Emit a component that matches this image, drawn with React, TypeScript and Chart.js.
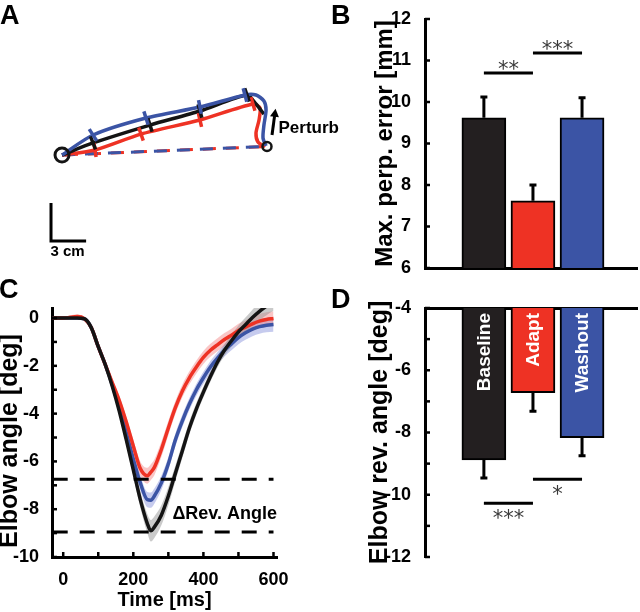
import React, { useEffect, useRef } from 'react';
import { Chart, registerables } from 'chart.js';

Chart.register(...registerables);

const FONT = '"Liberation Sans", Arial, Helvetica, sans-serif';
const STAR_FONT = '"DejaVu Sans", sans-serif';
const INK = '#141414';
const RED = '#ee3224';
const BLUE = '#3b54a5';
const BAR_BLACK = '#231f20';

// ---------------- Panel A: hand paths (cm, origin = start target) ----------------
const baselinePath = [[0, 0], [2.65, 1.03], [7.52, 2.56], [11.79, 3.76], [15.81, 5.13], [16.58, 4.36], [17.26, 3.5]];
const adaptPath = [[0, 0], [2.82, 0.43], [6.75, 1.79], [11.79, 2.99], [16.32, 4.36], [16.92, 4.02], [16.84, 2.99], [16.58, 1.88], [16.75, 1.11], [17.35, 0.68]];
const washoutPath = [[0, 0], [2.65, 1.71], [7.18, 3.16], [11.79, 4.1], [15.64, 5.13], [16.58, 5.13], [17.26, 4.62], [17.44, 3.85], [17.26, 2.56], [17.18, 1.45], [17.44, 0.77]];
const pathTickIdx = [1, 2, 3, 4];
const startTarget = [0, 0];
const endTarget = [17.52, 0.73];
const perturbArrow = [[17.95, 1.71], [18.25, 3.95]];
const scaleBarCm = [[-0.94, -4.1], [-0.94, -7.35], [2.06, -7.35]];

// ---------------- Panels B & D: bars ----------------
const conditions = ['Baseline', 'Adapt', 'Washout'];
const barColors = [BAR_BLACK, RED, BLUE];
const perpErrMean = [9.62, 7.62, 9.62];
const perpErrSE = [0.5, 0.38, 0.48];
const perpTicks = [6, 7, 8, 9, 10, 11, 12];
const perpSig = [
  { from: 0, to: 1, y: 10.7, label: '**' },
  { from: 1, to: 2, y: 11.18, label: '***' },
];
const revMean = [-8.88, -6.72, -8.17];
const revSE = [0.58, 0.6, 0.58];
const revTicks = [-12, -11, -10, -9, -8, -7, -6, -5, -4];
const revSig = [
  { from: 0, to: 1, y: -10.27, label: '***' },
  { from: 1, to: 2, y: -9.5, label: '*' },
];

// ---------------- Panel C: elbow angle time courses ----------------
const times = [-30, 0, 20, 40, 60, 80, 100, 120, 140, 160, 180, 200, 220, 240, 250, 260, 280, 300, 320, 340, 360, 380, 400, 420, 440, 460, 480, 500, 520, 540, 560, 580, 600];
const baselineAngle = [0, 0, 0, 0, -0.03, -0.4, -1.2, -1.95, -2.85, -3.9, -5.1, -6.35, -7.6, -8.6, -8.9, -8.75, -8.25, -7.45, -6.5, -5.55, -4.6, -3.8, -3.1, -2.45, -1.85, -1.35, -0.95, -0.58, -0.28, 0.02, 0.28, 0.5, 0.7];
const adaptAngle = [0, 0, 0.03, 0.06, -0.02, -0.4, -1.2, -1.95, -2.7, -3.45, -4.35, -5.35, -6.3, -6.6, -6.45, -6.25, -5.5, -4.6, -3.75, -3.05, -2.5, -2.05, -1.65, -1.35, -1.12, -0.9, -0.72, -0.52, -0.38, -0.24, -0.13, -0.06, -0.02];
const washoutAngle = [0, 0, 0, 0, -0.03, -0.4, -1.2, -1.95, -2.8, -3.75, -4.8, -5.9, -6.9, -7.6, -7.62, -7.45, -6.9, -6.1, -5.1, -4.3, -3.6, -3.0, -2.5, -2.05, -1.68, -1.35, -1.08, -0.82, -0.62, -0.46, -0.36, -0.3, -0.27];
const baselineSE = [0.04, 0.04, 0.04, 0.05, 0.05, 0.08, 0.1, 0.12, 0.15, 0.18, 0.22, 0.27, 0.33, 0.4, 0.45, 0.45, 0.42, 0.38, 0.33, 0.3, 0.27, 0.25, 0.23, 0.22, 0.22, 0.23, 0.25, 0.27, 0.3, 0.33, 0.36, 0.38, 0.4];
const adaptSE = [0.05, 0.05, 0.08, 0.1, 0.06, 0.08, 0.1, 0.12, 0.15, 0.18, 0.22, 0.26, 0.3, 0.33, 0.33, 0.33, 0.32, 0.3, 0.28, 0.27, 0.27, 0.27, 0.27, 0.27, 0.27, 0.27, 0.27, 0.28, 0.28, 0.29, 0.3, 0.3, 0.3];
const washoutSE = [0.04, 0.04, 0.04, 0.05, 0.05, 0.08, 0.1, 0.12, 0.15, 0.18, 0.22, 0.26, 0.3, 0.32, 0.32, 0.32, 0.3, 0.28, 0.27, 0.26, 0.25, 0.25, 0.25, 0.25, 0.25, 0.26, 0.27, 0.28, 0.29, 0.3, 0.3, 0.3, 0.3];
const revLevels = [-6.75, -8.95];
const angleTicks = [-10, -9, -8, -7, -6, -5, -4, -3, -2, -1, 0];
const timeTicks = [0, 100, 200, 300, 400, 500, 600];

const noInteract = {
  animation: false,
  responsive: false,
  events: [],
};

function letter(ctx: CanvasRenderingContext2D, text: string, x: number, y: number) {
  ctx.save();
  ctx.font = `bold 27px ${FONT}`;
  ctx.fillStyle = '#000';
  ctx.textAlign = 'left';
  ctx.textBaseline = 'alphabetic';
  ctx.fillText(text, x, y);
  ctx.restore();
}

// ---------------- Panel A config ----------------
function configA(): any {
  const toPts = (path: number[][]) => path.map((p) => ({ x: p[0], y: p[1] }));
  const pathDs = (path: number[][], color: string, order: number) => ({
    data: toPts(path), showLine: true, borderColor: color, borderWidth: 3.5, pointRadius: 0, tension: 0.25, order,
  });
  const plugin = {
    id: 'panelA',
    afterDatasetsDraw(chart: any) {
      const { ctx, scales } = chart;
      const px = (p: number[]) => [scales.x.getPixelForValue(p[0]), scales.y.getPixelForValue(p[1])];
      ctx.save();
      ctx.lineWidth = 3.5;
      ctx.lineCap = 'butt';
      const sets: [number[][], string][] = [[adaptPath, RED], [baselinePath, INK], [washoutPath, BLUE]];
      sets.forEach(([path, color]) => {
        ctx.strokeStyle = color;
        pathTickIdx.forEach((i) => {
          const a = px(path[i - 1]);
          const c = px(path[i]);
          let dx = c[0] - a[0];
          let dy = c[1] - a[1];
          const len = Math.hypot(dx, dy) || 1;
          dx /= len; dy /= len;
          const nx = -dy, ny = dx, h = 7;
          ctx.beginPath();
          ctx.moveTo(c[0] - nx * h, c[1] - ny * h);
          ctx.lineTo(c[0] + nx * h, c[1] + ny * h);
          ctx.stroke();
        });
      });
      // perturbation arrow
      const tail = px(perturbArrow[0]);
      const tip = px(perturbArrow[1]);
      let ux = tip[0] - tail[0], uy = tip[1] - tail[1];
      const l = Math.hypot(ux, uy);
      ux /= l; uy /= l;
      const head = 8;
      ctx.lineWidth = 3;
      ctx.strokeStyle = '#000';
      ctx.fillStyle = '#000';
      ctx.beginPath();
      ctx.moveTo(tail[0], tail[1]);
      ctx.lineTo(tip[0] - ux * head * 0.8, tip[1] - uy * head * 0.8);
      ctx.stroke();
      ctx.beginPath();
      ctx.moveTo(tip[0], tip[1]);
      ctx.lineTo(tip[0] - ux * head - uy * 4.5, tip[1] - uy * head + ux * 4.5);
      ctx.lineTo(tip[0] - ux * head + uy * 4.5, tip[1] - uy * head - ux * 4.5);
      ctx.closePath();
      ctx.fill();
      ctx.font = `bold 17px ${FONT}`;
      ctx.textAlign = 'left';
      ctx.textBaseline = 'middle';
      ctx.fillText('Perturb', Math.max(tail[0], tip[0]) + 3, (tail[1] + tip[1]) / 2 + 6);
      // scale bar label
      const c0 = px(scaleBarCm[1]);
      const c1 = px(scaleBarCm[2]);
      ctx.font = `bold 15px ${FONT}`;
      ctx.textAlign = 'center';
      ctx.fillText('3 cm', (c0[0] + c1[0]) / 2 - 1, c0[1] + 11);
      ctx.restore();
      letter(ctx, 'A', 0, 24);
    },
  };
  return {
    type: 'scatter',
    data: {
      datasets: [
        { data: [{ x: startTarget[0], y: startTarget[1] }], pointRadius: 7, pointBorderWidth: 3, borderColor: INK, backgroundColor: 'rgba(0,0,0,0)', order: 0 },
        { data: [{ x: endTarget[0], y: endTarget[1] }], pointRadius: 4.5, pointBorderWidth: 2.5, borderColor: INK, backgroundColor: 'rgba(0,0,0,0)', order: 0 },
        { data: toPts(scaleBarCm), showLine: true, borderColor: '#000', borderWidth: 3, pointRadius: 0, order: 0 },
        pathDs(washoutPath, BLUE, 1),
        pathDs(baselinePath, INK, 2),
        pathDs(adaptPath, RED, 3),
        { data: [{ x: startTarget[0], y: startTarget[1] }, { x: endTarget[0], y: endTarget[1] }], showLine: true, borderColor: BLUE, borderWidth: 3, borderDash: [13, 10], pointRadius: 0, order: 4 },
        { data: [{ x: startTarget[0], y: startTarget[1] }, { x: endTarget[0], y: endTarget[1] }], showLine: true, borderColor: RED, borderWidth: 3, borderDash: [13, 10], borderDashOffset: -3, pointRadius: 0, order: 5 },
      ],
    },
    options: {
      ...noInteract,
      layout: { padding: 0, autoPadding: false },
      plugins: { legend: { display: false }, tooltip: { enabled: false } },
      scales: {
        x: { type: 'linear', display: false, min: -5.3, max: 25.47 },
        y: { type: 'linear', display: false, min: -9.83, max: 13.25 },
      },
    },
    plugins: [plugin],
  };
}

// ---------------- Bar panels (B, D) ----------------
function makeBarConfig(p: any): any {
  const plugin = {
    id: 'barExtras',
    afterDatasetsDraw(chart: any) {
      const { ctx, scales, chartArea } = chart;
      const x = scales.x, y = scales.y;
      const meta = chart.getDatasetMeta(0);
      ctx.save();
      ctx.strokeStyle = '#000';
      ctx.lineWidth = 3;
      meta.data.forEach((bar: any, i: number) => {
        const yEnd = y.getPixelForValue(p.means[i] + p.dir * p.se[i]);
        ctx.beginPath();
        ctx.moveTo(bar.x, bar.y);
        ctx.lineTo(bar.x, yEnd);
        ctx.moveTo(bar.x - 3.5, yEnd);
        ctx.lineTo(bar.x + 3.5, yEnd);
        ctx.stroke();
      });
      p.sig.forEach((s: any) => {
        const x1 = x.getPixelForValue(s.from + 1);
        const x2 = x.getPixelForValue(s.to + 1);
        const yy = y.getPixelForValue(s.y);
        ctx.strokeStyle = '#000';
        ctx.lineWidth = 3;
        ctx.beginPath();
        ctx.moveTo(x1, yy);
        ctx.lineTo(x2, yy);
        ctx.stroke();
        const size = 21;
        ctx.font = `${size}px ${STAR_FONT}`;
        ctx.fillStyle = '#3a3a3a';
        ctx.textAlign = 'center';
        ctx.textBaseline = 'alphabetic';
        ctx.fillText(s.label, (x1 + x2) / 2, yy + p.starOffset + 0.56 * size);
      });
      if (p.inside) {
        meta.data.forEach((bar: any, i: number) => {
          ctx.save();
          ctx.translate(bar.x, y.getPixelForValue(p.base) + 5);
          ctx.rotate(-Math.PI / 2);
          ctx.font = `bold 19px ${FONT}`;
          ctx.fillStyle = '#fff';
          ctx.textAlign = 'right';
          ctx.textBaseline = 'middle';
          ctx.fillText(conditions[i], 0, 1);
          ctx.restore();
        });
      }
      ctx.strokeStyle = '#000';
      ctx.lineWidth = 2.5;
      p.ticks.forEach((v: number) => {
        const py = y.getPixelForValue(v);
        ctx.beginPath();
        ctx.moveTo(chartArea.left, py);
        ctx.lineTo(chartArea.left + 5, py);
        ctx.stroke();
      });
      ctx.restore();
      letter(ctx, p.letter, 11, 24);
    },
  };
  return {
    type: 'bar',
    data: {
      datasets: [{
        data: p.means.map((v: number, i: number) => ({ x: i + 1, y: v })),
        backgroundColor: barColors,
        borderColor: '#000',
        borderWidth: 2,
        borderSkipped: 'start',
        barThickness: 44,
        base: p.base,
      }],
    },
    options: {
      ...noInteract,
      layout: { padding: p.padding, autoPadding: false },
      plugins: { legend: { display: false }, tooltip: { enabled: false } },
      scales: {
        x: {
          type: 'linear', position: p.xPos, min: -0.2, max: 4.12, offset: false,
          grid: { display: false }, ticks: { display: false },
          border: { display: true, color: '#000', width: 3 },
          afterFit: (s: any) => { s.height = 0; },
        },
        y: {
          type: 'linear', min: p.min, max: p.max,
          afterBuildTicks: (s: any) => { s.ticks = p.ticks.map((v: number) => ({ value: v })); },
          ticks: { color: '#000', font: { family: FONT, size: 18, weight: 'bold' }, padding: 6, autoSkip: false, callback: p.tickLabel },
          grid: { display: false },
          border: { color: '#000', width: 3 },
          title: { display: true, text: p.title, color: '#000', font: { family: FONT, size: p.titleSize, weight: 'bold' }, padding: { top: p.titlePad, bottom: 0 } },
          afterFit: (s: any) => { s.width = 105; },
        },
      },
    },
    plugins: [plugin],
  };
}

function configB(): any {
  return makeBarConfig({
    means: perpErrMean, se: perpErrSE, dir: 1, base: perpTicks[0],
    ticks: perpTicks, min: perpTicks[0], max: perpTicks[perpTicks.length - 1],
    tickLabel: (v: number) => String(v),
    sig: perpSig, starOffset: -9, inside: false, letter: 'B', xPos: 'bottom',
    padding: { top: 19, right: 3, bottom: 22, left: 0 },
    title: 'Max. perp. error [mm]', titleSize: 24, titlePad: 50.6,
  });
}

function configD(): any {
  return makeBarConfig({
    means: revMean, se: revSE, dir: -1, base: revTicks[revTicks.length - 1],
    ticks: revTicks, min: revTicks[0], max: revTicks[revTicks.length - 1],
    tickLabel: (v: number) => (v % 2 === 0 ? String(v) : ''),
    sig: revSig, starOffset: 10.5, inside: true, letter: 'D', xPos: 'top',
    padding: { top: 24, right: 3, bottom: 55, left: 0 },
    title: 'Elbow rev. angle [deg]', titleSize: 25, titlePad: 45,
  });
}

// ---------------- Panel C config ----------------
function configC(): any {
  const series = [
    { mean: baselineAngle, se: baselineSE, line: INK, band: 'rgba(150,150,150,0.5)', order: 1 },
    { mean: adaptAngle, se: adaptSE, line: RED, band: 'rgba(240,120,120,0.42)', order: 2 },
    { mean: washoutAngle, se: washoutSE, line: BLUE, band: 'rgba(120,130,215,0.42)', order: 3 },
  ];
  const datasets: any[] = [];
  series.forEach((s) => {
    datasets.push({
      data: times.map((t, i) => ({ x: t, y: s.mean[i] + s.se[i] })),
      borderWidth: 0, borderColor: 'rgba(0,0,0,0)', pointRadius: 0, backgroundColor: s.band,
      fill: '+1', order: 10 + s.order, cubicInterpolationMode: 'monotone',
    });
    datasets.push({
      data: times.map((t, i) => ({ x: t, y: s.mean[i] - s.se[i] })),
      borderWidth: 0, borderColor: 'rgba(0,0,0,0)', pointRadius: 0, fill: false,
      order: 10 + s.order, cubicInterpolationMode: 'monotone',
    });
  });
  series.forEach((s) => {
    datasets.push({
      data: times.map((t, i) => ({ x: t, y: s.mean[i] })),
      borderColor: s.line, borderWidth: 3.5, pointRadius: 0, fill: false,
      order: s.order, cubicInterpolationMode: 'monotone',
    });
  });
  revLevels.forEach((lv) => {
    datasets.push({
      data: [{ x: times[0], y: lv }, { x: times[times.length - 1], y: lv }],
      borderColor: '#000', borderWidth: 3, borderDash: [15, 12], pointRadius: 0, fill: false, order: 0,
    });
  });
  const plugin = {
    id: 'panelC',
    afterDraw(chart: any) {
      const { ctx, scales, chartArea } = chart;
      ctx.save();
      ctx.strokeStyle = '#000';
      ctx.lineWidth = 2.5;
      angleTicks.forEach((v) => {
        const py = scales.y.getPixelForValue(v);
        ctx.beginPath();
        ctx.moveTo(chartArea.left, py);
        ctx.lineTo(chartArea.left + 5, py);
        ctx.stroke();
      });
      timeTicks.forEach((v) => {
        const pxv = scales.x.getPixelForValue(v);
        ctx.beginPath();
        ctx.moveTo(pxv, chartArea.bottom);
        ctx.lineTo(pxv, chartArea.bottom - 5);
        ctx.stroke();
      });
      ctx.fillStyle = '#000';
      ctx.font = `bold 18px ${FONT}`;
      ctx.textAlign = 'right';
      ctx.textBaseline = 'middle';
      ctx.fillText('\u0394Rev. Angle', chartArea.right, scales.y.getPixelForValue(-8.2));
      ctx.save();
      ctx.translate(10, 171);
      ctx.rotate(-Math.PI / 2);
      ctx.font = `bold 25px ${FONT}`;
      ctx.textAlign = 'center';
      ctx.textBaseline = 'middle';
      ctx.fillText('Elbow angle [deg]', 0, 0);
      ctx.restore();
      ctx.restore();
      letter(ctx, 'C', -1, 28);
    },
  };
  return {
    type: 'line',
    data: { datasets },
    options: {
      ...noInteract,
      layout: { padding: { top: 38, right: 43, bottom: 0, left: 0 }, autoPadding: false },
      plugins: { legend: { display: false }, tooltip: { enabled: false } },
      scales: {
        x: {
          type: 'linear', min: -32, max: 610,
          afterBuildTicks: (s: any) => { s.ticks = timeTicks.map((v) => ({ value: v })); },
          ticks: { color: '#000', font: { family: FONT, size: 18, weight: 'bold' }, padding: 4, autoSkip: false, maxRotation: 0, callback: (v: number) => (v % 200 === 0 ? String(v) : '') },
          grid: { display: false },
          border: { color: '#000', width: 3 },
          title: { display: true, text: 'Time [ms]', color: '#000', font: { family: FONT, size: 20, weight: 'bold' }, padding: { top: 0, bottom: 0 } },
          afterFit: (s: any) => { s.height = 55; },
        },
        y: {
          type: 'linear', min: -10, max: 0.42,
          afterBuildTicks: (s: any) => { s.ticks = angleTicks.map((v) => ({ value: v })); },
          ticks: { color: '#000', font: { family: FONT, size: 18, weight: 'bold' }, padding: 5, autoSkip: false, callback: (v: number) => (v % 2 === 0 ? String(v) : '') },
          grid: { display: false },
          border: { color: '#000', width: 3 },
          afterFit: (s: any) => { s.width = 52; },
        },
      },
    },
    plugins: [plugin],
  };
}

export default function App() {
  const aRef = useRef<HTMLCanvasElement>(null);
  const bRef = useRef<HTMLCanvasElement>(null);
  const cRef = useRef<HTMLCanvasElement>(null);
  const dRef = useRef<HTMLCanvasElement>(null);

  useEffect(() => {
    const charts = [
      new Chart(bRef.current as HTMLCanvasElement, configB()),
      new Chart(dRef.current as HTMLCanvasElement, configD()),
      new Chart(cRef.current as HTMLCanvasElement, configC()),
      new Chart(aRef.current as HTMLCanvasElement, configA()),
    ];
    return () => charts.forEach((c) => c.destroy());
  }, []);

  const abs = (left: number, top: number, w: number, h: number): React.CSSProperties => ({
    position: 'absolute', left, top, width: w, height: h,
  });

  return (
    <div style={{ position: 'absolute', left: 0, top: 0, width: 640, height: 612, background: '#fff', overflow: 'hidden' }}>
      <canvas ref={bRef} width={320} height={290} style={abs(320, 0, 320, 290)} />
      <canvas ref={dRef} width={320} height={328} style={abs(320, 284, 320, 328)} />
      <canvas ref={cRef} width={320} height={342} style={abs(0, 270, 320, 342)} />
      <canvas ref={aRef} width={360} height={270} style={abs(0, 0, 360, 270)} />
    </div>
  );
}
